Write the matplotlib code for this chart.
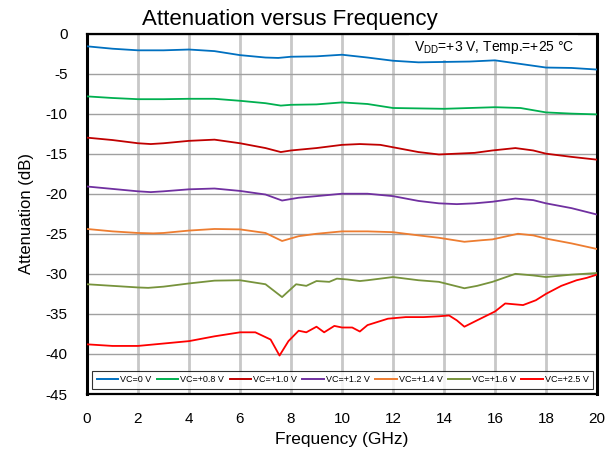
import matplotlib
matplotlib.use("Agg")
import matplotlib.pyplot as plt

plt.rcParams['font.family'] = ['Liberation Sans', 'DejaVu Sans']
plt.rcParams['axes.unicode_minus'] = False

labels = ["VC=0 V", "VC=+0.8 V", "VC=+1.0 V", "VC=+1.2 V", "VC=+1.4 V", "VC=+1.6 V", "VC=+2.5 V"]
colors = ["#0070C0", "#00B050", "#C00000", "#7030A0", "#ED7D31", "#77933C", "#FF0000"]

f_vc0 = [0, 1, 2, 3, 4, 5, 6, 7, 7.5, 8, 9, 10, 11, 12, 13, 14, 15, 16, 17, 18, 19, 20]
a_vc0 = [-1.6, -1.9, -2.1, -2.1, -2.0, -2.2, -2.7, -3.0, -3.05, -2.9, -2.85, -2.65, -3.0, -3.4, -3.6,
         -3.55, -3.5, -3.35, -3.8, -4.25, -4.3, -4.5]

f_vc08 = [0, 1, 2, 3, 4, 5, 6, 7, 7.6, 8, 9, 10, 11, 12, 13, 14, 15, 16, 17, 18, 19, 20]
a_vc08 = [-7.85, -8.05, -8.2, -8.2, -8.15, -8.15, -8.4, -8.7, -9.0, -8.9, -8.85, -8.6, -8.8, -9.3, -9.35,
          -9.4, -9.3, -9.2, -9.3, -9.85, -10.0, -10.1]

f_vc10 = [0, 1, 2, 2.5, 3, 4, 5, 6, 7, 7.6, 8, 9, 10, 10.7, 11.5, 12, 13, 13.8, 14.5, 15.2, 15.9, 16.8,
          17.5, 18, 19, 20]
a_vc10 = [-13.0, -13.3, -13.7, -13.8, -13.7, -13.4, -13.25, -13.7, -14.3, -14.8, -14.6, -14.3, -13.9,
          -13.8, -13.9, -14.2, -14.8, -15.1, -15.0, -14.9, -14.6, -14.3, -14.6, -15.0, -15.4, -15.75]

f_vc12 = [0, 1, 2, 2.5, 3, 4, 5, 6, 7, 7.65, 8.3, 9, 10, 11, 12, 13, 13.8, 14.5, 15.2, 15.9, 16.8, 17.5,
          18, 19, 20]
a_vc12 = [-19.1, -19.4, -19.7, -19.8, -19.7, -19.45, -19.35, -19.65, -20.1, -20.85, -20.5, -20.3, -20.0,
          -20.0, -20.3, -20.9, -21.2, -21.3, -21.2, -21.0, -20.6, -20.8, -21.2, -21.8, -22.6]

f_vc14 = [0, 1, 2, 2.6, 3, 4, 5, 6, 7, 7.65, 8.3, 9, 10, 11, 12, 13, 13.8, 14.8, 15.5, 15.9, 16.9, 17.5,
          18, 19, 20]
a_vc14 = [-24.4, -24.7, -24.9, -24.95, -24.9, -24.6, -24.4, -24.45, -24.9, -25.9, -25.3, -25.0, -24.7,
          -24.7, -24.8, -25.2, -25.5, -26.0, -25.8, -25.7, -25.0, -25.2, -25.6, -26.2, -26.9]

f_vc16 = [0, 1, 2, 2.4, 3, 4, 5, 6, 7, 7.65, 8.2, 8.6, 9, 9.5, 9.8, 10.2, 10.7, 11, 12, 13, 13.8, 14.8,
          15.3, 15.9, 16.8, 17.5, 18, 19, 20]
a_vc16 = [-31.3, -31.5, -31.7, -31.75, -31.6, -31.2, -30.85, -30.8, -31.3, -32.9, -31.3, -31.5, -30.9,
          -31.0, -30.6, -30.7, -30.9, -30.8, -30.4, -30.8, -31.0, -31.8, -31.5, -31.0, -30.0, -30.2,
          -30.4, -30.1, -29.9]

f_vc25 = [0, 1, 2, 3, 4, 5, 6, 6.6, 7.2, 7.55, 7.9, 8.3, 8.6, 9, 9.3, 9.7, 10, 10.4, 10.7, 11, 11.8,
          12.5, 13.2, 13.8, 14.2, 14.5, 14.8, 15.3, 16, 16.4, 17.1, 17.6, 18, 18.6, 19.2, 19.6, 20]
a_vc25 = [-38.8, -39.0, -39.0, -38.7, -38.4, -37.8, -37.3, -37.3, -38.2, -40.2, -38.4, -37.1, -37.3,
          -36.6, -37.3, -36.5, -36.7, -36.7, -37.2, -36.4, -35.6, -35.4, -35.4, -35.3, -35.2, -35.8,
          -36.6, -35.8, -34.7, -33.7, -33.9, -33.3, -32.5, -31.5, -30.8, -30.5, -30.1]

series = [(f_vc0, a_vc0), (f_vc08, a_vc08), (f_vc10, a_vc10), (f_vc12, a_vc12),
          (f_vc14, a_vc14), (f_vc16, a_vc16), (f_vc25, a_vc25)]

x_ticks = [0, 2, 4, 6, 8, 10, 12, 14, 16, 18, 20]
y_ticks = [0, -5, -10, -15, -20, -25, -30, -35, -40, -45]

fig = plt.figure(figsize=(6.16, 4.5), dpi=100)
ax = fig.add_axes([87/616, 1-394/450, (597-87)/616, (394-33.5)/450])

for (f, a), lab, col in zip(series, labels, colors):
    ax.plot(f, a, color=col, lw=1.3, label=lab, solid_joinstyle='round', zorder=3)

ax.set_xlim(0, 20)
ax.set_ylim(-45, 0)
ax.set_xticks(x_ticks)
ax.set_yticks(y_ticks)
ax.tick_params(axis='both', length=0, labelsize=11)
ax.tick_params(axis='y', pad=14)
ax.tick_params(axis='x', pad=13)

ax.xaxis.grid(True, color="#C8C8C8", lw=2.0)
ax.yaxis.grid(True, color="#A0A0A0", lw=1.0)
ax.set_axisbelow(True)
for s in ax.spines.values():
    s.set_color('black')
    s.set_linewidth(1.6)
ax.spines['right'].set_linewidth(2.2)
ax.spines['left'].set_linewidth(2.2)

ax.set_xlabel("Frequency (GHz)", fontsize=12.5, labelpad=4)
ax.set_ylabel("Attenuation (dB)", fontsize=12, labelpad=8)
fig.text(290/616, 1-25/450, "Attenuation versus Frequency", fontsize=16, ha='center', va='baseline')

ax.text(0.955, 0.962, r"V$_{\mathregular{DD}}$=+3 V, Temp.=+25 °C", transform=ax.transAxes,
        fontsize=10, ha='right', va='center', zorder=2,
        bbox=dict(facecolor='white', edgecolor='none', pad=3))

leg = ax.legend(loc='lower left', bbox_to_anchor=(0.01, 0.014, 0.982, 0.072), mode='expand',
                ncol=7, fontsize=6.5, frameon=True, fancybox=False, borderaxespad=0,
                handlelength=2.4, handletextpad=0.2, columnspacing=0.8, borderpad=0.5)
leg.set_zorder(5)
leg.get_frame().set_edgecolor('black')
leg.get_frame().set_linewidth(0.8)
for line in leg.get_lines():
    line.set_linewidth(1.4)

fig.savefig("out.png", dpi=100)
